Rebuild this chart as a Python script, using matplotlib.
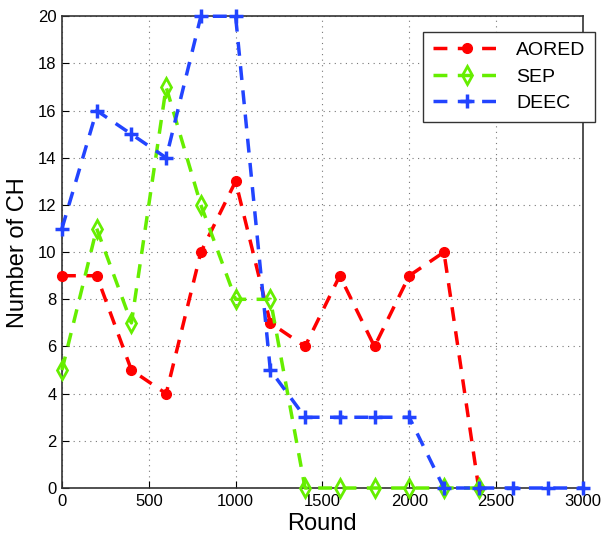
import matplotlib
matplotlib.use("Agg")
import matplotlib.pyplot as plt

rounds_aored = [0, 200, 400, 600, 800, 1000, 1200, 1400, 1600, 1800, 2000, 2200, 2400]
aored = [9, 9, 5, 4, 10, 13, 7, 6, 9, 6, 9, 10, 0]
rounds_sep = [0, 200, 400, 600, 800, 1000, 1200, 1400, 1600, 1800, 2000, 2200, 2400]
sep = [5, 11, 7, 17, 12, 8, 8, 0, 0, 0, 0, 0, 0]
rounds_deec = [0, 200, 400, 600, 800, 1000, 1200, 1400, 1600, 1800, 2000, 2200, 2400, 2600, 2800, 3000]
deec = [11, 16, 15, 14, 20, 20, 5, 3, 3, 3, 3, 0, 0, 0, 0, 0]

plt.rcParams['font.family'] = ['Liberation Sans', 'DejaVu Sans']
fig = plt.figure(figsize=(6.04, 5.42), dpi=100)
ax = fig.add_axes([0.1026, 0.0996, 0.8624, 0.8704])

ax.plot(rounds_aored, aored, color='#ff0000', marker='o', markersize=7, lw=2.5, dashes=(4, 3),
        label='AORED', zorder=3, clip_on=False)
ax.plot(rounds_sep, sep, color='#66ee00', marker='d', markersize=9, markerfacecolor='none',
        markeredgewidth=2, lw=2.5, dashes=(4, 3), label='SEP', zorder=3, clip_on=False)
ax.plot(rounds_deec, deec, color='#2244ff', marker='+', markersize=10, markeredgewidth=2.5,
        lw=2.5, dashes=(4, 3), label='DEEC', zorder=3, clip_on=False)

ax.set_xlim(0, 3000)
ax.set_ylim(0, 20)
ax.set_xticks(range(0, 3001, 500))
ax.set_yticks(range(0, 21, 2))
ax.tick_params(direction='in', labelsize=12, length=5, pad=4)
ax.grid(True, linestyle=(0, (1, 4)), color='#777777', lw=0.8)
for s in ax.spines.values():
    s.set_linewidth(1.2)
    s.set_color('#333333')
ax.set_xlabel('Round', fontsize=17, labelpad=3)
ax.set_ylabel('Number of CH', fontsize=17, labelpad=6)
leg = ax.legend(loc='upper left', bbox_to_anchor=(0.693, 0.967), borderaxespad=0, fontsize=14,
                fancybox=False, edgecolor='#333333', framealpha=1, handlelength=3.5,
                borderpad=0.5, labelspacing=0.45)
leg.get_frame().set_linewidth(1.0)
leg.set_zorder(5)
fig.savefig('out.png', dpi=100)
